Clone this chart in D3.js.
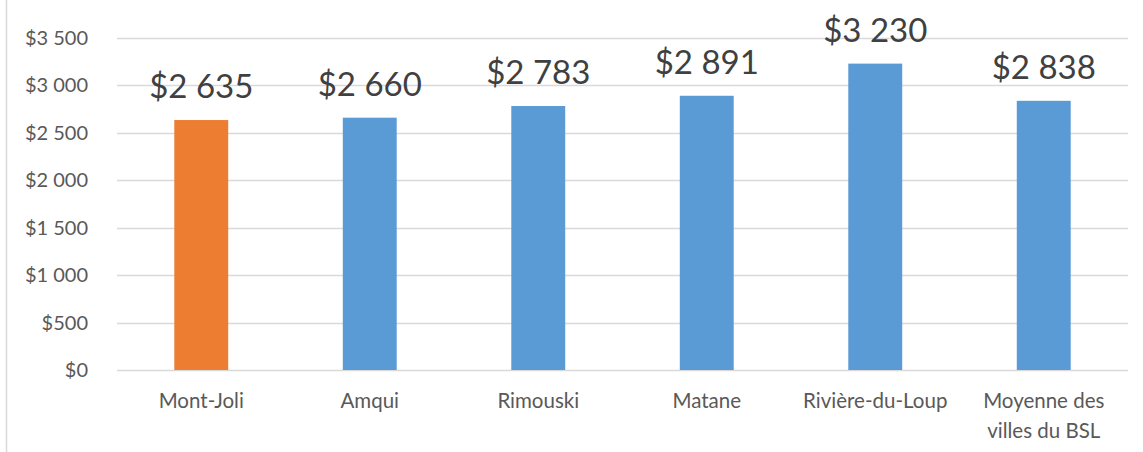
<!DOCTYPE html>
<html>
<head>
<meta charset="utf-8">
<script src="https://cdn.jsdelivr.net/npm/d3@7"></script>
<style>
  body { margin: 0; background: #fff; }
  svg text { font-family: Lato, "Open Sans", sans-serif; fill: #595959; }
</style>
</head>
<body>
<svg id="chart"></svg>
<script>
const villes = ["Mont-Joli", "Amqui", "Rimouski", "Matane", "Rivière-du-Loup", "Moyenne des villes du BSL"];
const couts = [2635, 2660, 2783, 2891, 3230, 2838];
const ticks = [0, 500, 1000, 1500, 2000, 2500, 3000, 3500];

const svg = d3.select("#chart").attr("width", 1143).attr("height", 452);
const width = 1143, height = 452;
const margin = { top: 38, right: 15, bottom: 82, left: 117 };

// cadre gauche
svg.append("line")
  .attr("x1", 6.5).attr("x2", 6.5).attr("y1", 0).attr("y2", height)
  .attr("stroke", "#d9d9d9").attr("stroke-width", 1.5);

const x = d3.scaleBand()
  .domain(villes)
  .range([margin.left, width - margin.right])
  .paddingInner(0.68).paddingOuter(0.34);

const y = d3.scaleLinear()
  .domain([0, 3500])
  .range([height - margin.bottom, margin.top]);

const fmt = v => "$" + d3.format(",")(v).replace(",", " ");

// grille
svg.append("g")
  .selectAll("line")
  .data(ticks)
  .join("line")
  .attr("x1", margin.left).attr("x2", width - margin.right)
  .attr("y1", d => Math.round(y(d)) + 0.5).attr("y2", d => Math.round(y(d)) + 0.5)
  .attr("stroke", "#d9d9d9").attr("stroke-width", 1.5);

// étiquettes axe y
svg.append("g")
  .selectAll("text")
  .data(ticks)
  .join("text")
  .attr("x", 88).attr("y", d => y(d))
  .attr("dy", "0.35em")
  .attr("text-anchor", "end")
  .attr("font-size", 20)
  .text(fmt);

// barres
svg.append("g")
  .selectAll("rect")
  .data(couts)
  .join("rect")
  .attr("x", (d, i) => x(villes[i]))
  .attr("width", x.bandwidth())
  .attr("y", d => y(d))
  .attr("height", d => y(0) - y(d))
  .attr("fill", (d, i) => i === 0 ? "#ED7D31" : "#5B9BD5");

// valeurs
svg.append("g")
  .selectAll("text")
  .data(couts)
  .join("text")
  .attr("x", (d, i) => x(villes[i]) + x.bandwidth() / 2)
  .attr("y", d => y(d) - 22)
  .attr("text-anchor", "middle")
  .attr("font-size", 33)
  .style("fill", "#404040")
  .text(fmt);

// catégories
const cat = svg.append("g")
  .selectAll("text")
  .data(villes)
  .join("text")
  .attr("x", d => x(d) + x.bandwidth() / 2)
  .attr("y", 408)
  .attr("text-anchor", "middle")
  .attr("font-size", 20.5);

cat.each(function (d) {
  const t = d3.select(this);
  const lignes = d === "Moyenne des villes du BSL" ? ["Moyenne des", "villes du BSL"] : [d];
  lignes.forEach((l, k) => {
    t.append("tspan").attr("x", t.attr("x")).attr("dy", k === 0 ? 0 : 30).text(l);
  });
});
</script>
</body>
</html>
